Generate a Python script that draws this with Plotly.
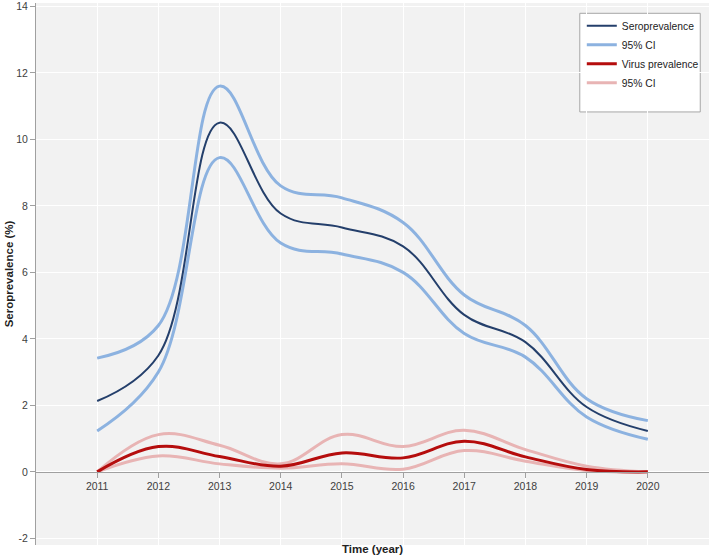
import plotly.graph_objects as go

years = [2011, 2012, 2013, 2014, 2015, 2016, 2017, 2018, 2019, 2020]

sero = [2.13, 3.5, 10.5, 7.77, 7.35, 6.78, 4.72, 3.9, 1.95, 1.23]
sero_hi = [3.42, 4.4, 11.6, 8.6, 8.24, 7.5, 5.32, 4.4, 2.2, 1.54]
sero_lo = [1.23, 3.0, 9.45, 6.88, 6.55, 6.0, 4.16, 3.45, 1.65, 0.98]

virus = [0.0, 0.76, 0.46, 0.17, 0.57, 0.42, 0.92, 0.45, 0.07, 0.0]
virus_hi = [0.0, 1.12, 0.8, 0.24, 1.12, 0.76, 1.25, 0.67, 0.17, 0.0]
virus_lo = [0.0, 0.48, 0.24, 0.11, 0.24, 0.08, 0.64, 0.32, 0.04, 0.0]

year_ticks = [str(y) for y in years]
y_ticks = [-2, 0, 2, 4, 6, 8, 10, 12, 14]

Y_MIN, Y_MAX = -2.2, 14.1

DARK_BLUE = '#243f6b'
LIGHT_BLUE = '#8cb2e0'
DARK_RED = '#b50d0d'
PINK = '#e8b4b4'

fig = go.Figure()

# light lines first so the centre lines sit on top
fig.add_trace(go.Scatter(x=years, y=sero_hi, name='95% CI', mode='lines',
                         line=dict(color=LIGHT_BLUE, width=3, shape='spline', smoothing=1.1),
                         legendrank=2))
fig.add_trace(go.Scatter(x=years, y=sero_lo, name='95% CI', mode='lines', showlegend=False,
                         line=dict(color=LIGHT_BLUE, width=3, shape='spline', smoothing=1.1)))
fig.add_trace(go.Scatter(x=years, y=sero, name='Seroprevalence', mode='lines',
                         line=dict(color=DARK_BLUE, width=2, shape='spline', smoothing=1.1),
                         legendrank=1))
fig.add_trace(go.Scatter(x=years, y=virus_hi, name='95% CI ', mode='lines',
                         line=dict(color=PINK, width=3, shape='spline', smoothing=1.1),
                         legendrank=4))
fig.add_trace(go.Scatter(x=years, y=virus_lo, name='95% CI ', mode='lines', showlegend=False,
                         line=dict(color=PINK, width=3, shape='spline', smoothing=1.1)))
fig.add_trace(go.Scatter(x=years, y=virus, name='Virus prevalence', mode='lines',
                         line=dict(color=DARK_RED, width=3, shape='spline', smoothing=1.1),
                         legendrank=3))

font_family = 'Liberation Sans Narrow, Liberation Sans, Arial, sans-serif'

fig.update_layout(
    width=709, height=557,
    margin=dict(l=36, r=0, t=3, b=12),
    paper_bgcolor='white',
    plot_bgcolor='#f2f2f2',
    font=dict(family=font_family, size=10, color='#404040'),
    showlegend=True,
    legend=dict(x=0.811, y=0.985, xanchor='left', yanchor='top',
                bgcolor='rgba(255,255,255,0)', borderwidth=0,
                font=dict(size=10.3, color='#222222'),
                itemwidth=30, tracegroupgap=0),
    xaxis=dict(range=[2010, 2021], tickvals=years, ticktext=year_ticks,
               showgrid=True, gridcolor='white', gridwidth=1,
               zeroline=False, showline=True, linecolor='#a0a0a0', linewidth=1,
               ticks='outside', ticklen=5, tickcolor='#a0a0a0',
               anchor='free', position=(0 - Y_MIN) / (Y_MAX - Y_MIN),
               automargin=False,
               tickfont=dict(size=10.5, color='#404040')),
    yaxis=dict(range=[Y_MIN, Y_MAX], tickvals=y_ticks, ticktext=[str(v) for v in y_ticks],
               showgrid=True, gridcolor='white', gridwidth=1,
               zeroline=False, showline=True, linecolor='#a0a0a0', linewidth=1,
               ticks='outside', ticklen=5, tickcolor='#a0a0a0',
               automargin=False,
               title=dict(text='<b>Seroprevalence (%)</b>', font=dict(size=11.5, color='#222222'),
                          standoff=0),
               tickfont=dict(size=10.5, color='#404040')),
    shapes=[dict(type='rect', xref='paper', yref='paper',
                 x0=0.808, x1=0.987, y0=0.799, y1=0.981,
                 fillcolor='white', line=dict(color='#a6a6a6', width=1), layer='below')],
    annotations=[dict(text='<b>Time (year)</b>', xref='paper', yref='paper',
                      x=0.5, y=-0.0074, xanchor='center', yanchor='middle', showarrow=False,
                      font=dict(size=11.5, color='#222222'))],
)

# drop the default page margin so the figure sits at the window's corner
fig.write_html("out.html", config={'displayModeBar': False},
               post_script="document.body.style.margin='0';")
